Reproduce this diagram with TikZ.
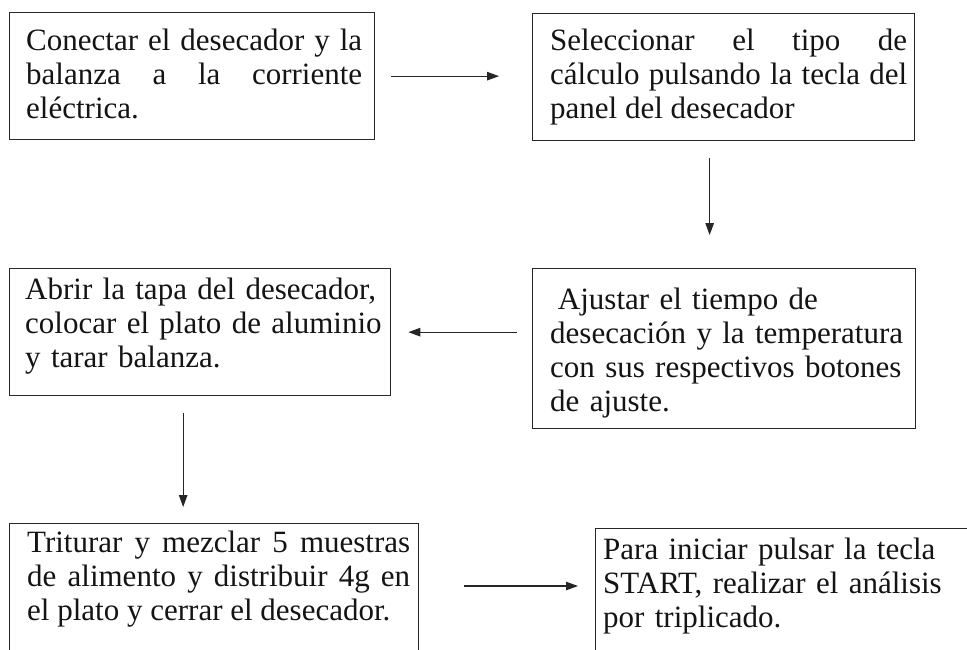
\documentclass[tikz,border=0pt]{standalone}
\usepackage{fontspec}
\setmainfont{Liberation Serif}
\usetikzlibrary{arrows.meta}
\hbadness=10000
\hfuzz=8pt
\hyphenpenalty=10000
\exhyphenpenalty=10000
\tikzset{
  stepbox/.style={draw=black!85, line width=1.3pt, inner sep=0pt, anchor=north west},
  txt/.style={inner sep=0pt, anchor=north west, text=black!92,
    font=\fontsize{31}{34}\selectfont},
  jtxt/.style={txt, align=justify},
  ltxt/.style={txt, align=left},
  arr/.style={draw=black!85, line width=1.1pt, -{Triangle[length=12pt,width=8.5pt]}}
}
\begin{document}
\begin{tikzpicture}[x=1pt,y=-1pt]
\useasboundingbox (0,0) rectangle (967,649);
\clip (0,0) rectangle (967,649);
% boxes
\node[stepbox, minimum width=365pt, minimum height=127pt] (b1) at (9,12) {};
\node[stepbox, minimum width=382pt, minimum height=127pt] (b2) at (532,13) {};
\node[stepbox, minimum width=381pt, minimum height=127pt] (b3) at (9,268) {};
\node[stepbox, minimum width=383pt, minimum height=160pt] (b4) at (532,268) {};
\node[stepbox, minimum width=409pt, minimum height=160pt] (b5) at (9,523) {};
\node[stepbox, minimum width=400pt, minimum height=160pt] (b6) at (595,528) {};
% texts (first baseline minus strut height 23.8)
\node[jtxt, text width=336pt] (t1) at (26,26.2) {\strut Conectar el desecador y la\linebreak balanza a la corriente\linebreak eléctrica.};
\node[jtxt, text width=357pt] (t2) at (550,26.2) {\strut Seleccionar el tipo de\linebreak cálculo pulsando la tecla del\linebreak panel del desecador};
\node[ltxt, text width=375pt] (t3) at (25,275.2) {\strut Abrir la tapa del desecador,\\ colocar el plato de aluminio\\ y tarar balanza.};
\node[ltxt, text width=375pt] (t4) at (550,285.2) {\strut\hspace*{0.25em}Ajustar el tiempo de\\ desecación y la temperatura\\ con sus respectivos botones\\ de ajuste.};
\node[jtxt, text width=383pt] (t5) at (27,528.2) {\strut Triturar y mezclar 5 muestras\linebreak de alimento y distribuir 4g en\linebreak el plato y cerrar el desecador.};
\node[ltxt, text width=360pt] (t6) at (603,535.2) {\strut Para iniciar pulsar la tecla\\ START, realizar el análisis\\ por triplicado.};
% connectors
\draw[arr] ([xshift=16pt]b1.east) -- ([xshift=-33pt]b2.west |- b1.east);
\draw[arr] ([xshift=-14pt,yshift=-17pt]b2.south) -- ([xshift=-14pt,yshift=33pt]b2.south |- b4.north);
\draw[arr] ([xshift=-15pt]b4.west |- b3.east) -- ([xshift=17pt]b3.east);
\draw[arr] ([xshift=-17pt,yshift=-17pt]b3.south) -- ([xshift=-17pt,yshift=16pt]b3.south |- b5.north);
\coordinate (a5) at (0,586);
\draw[arr] ([xshift=45pt]b5.east |- a5) -- ([xshift=-17pt]b6.west |- a5);
\end{tikzpicture}
\end{document}
